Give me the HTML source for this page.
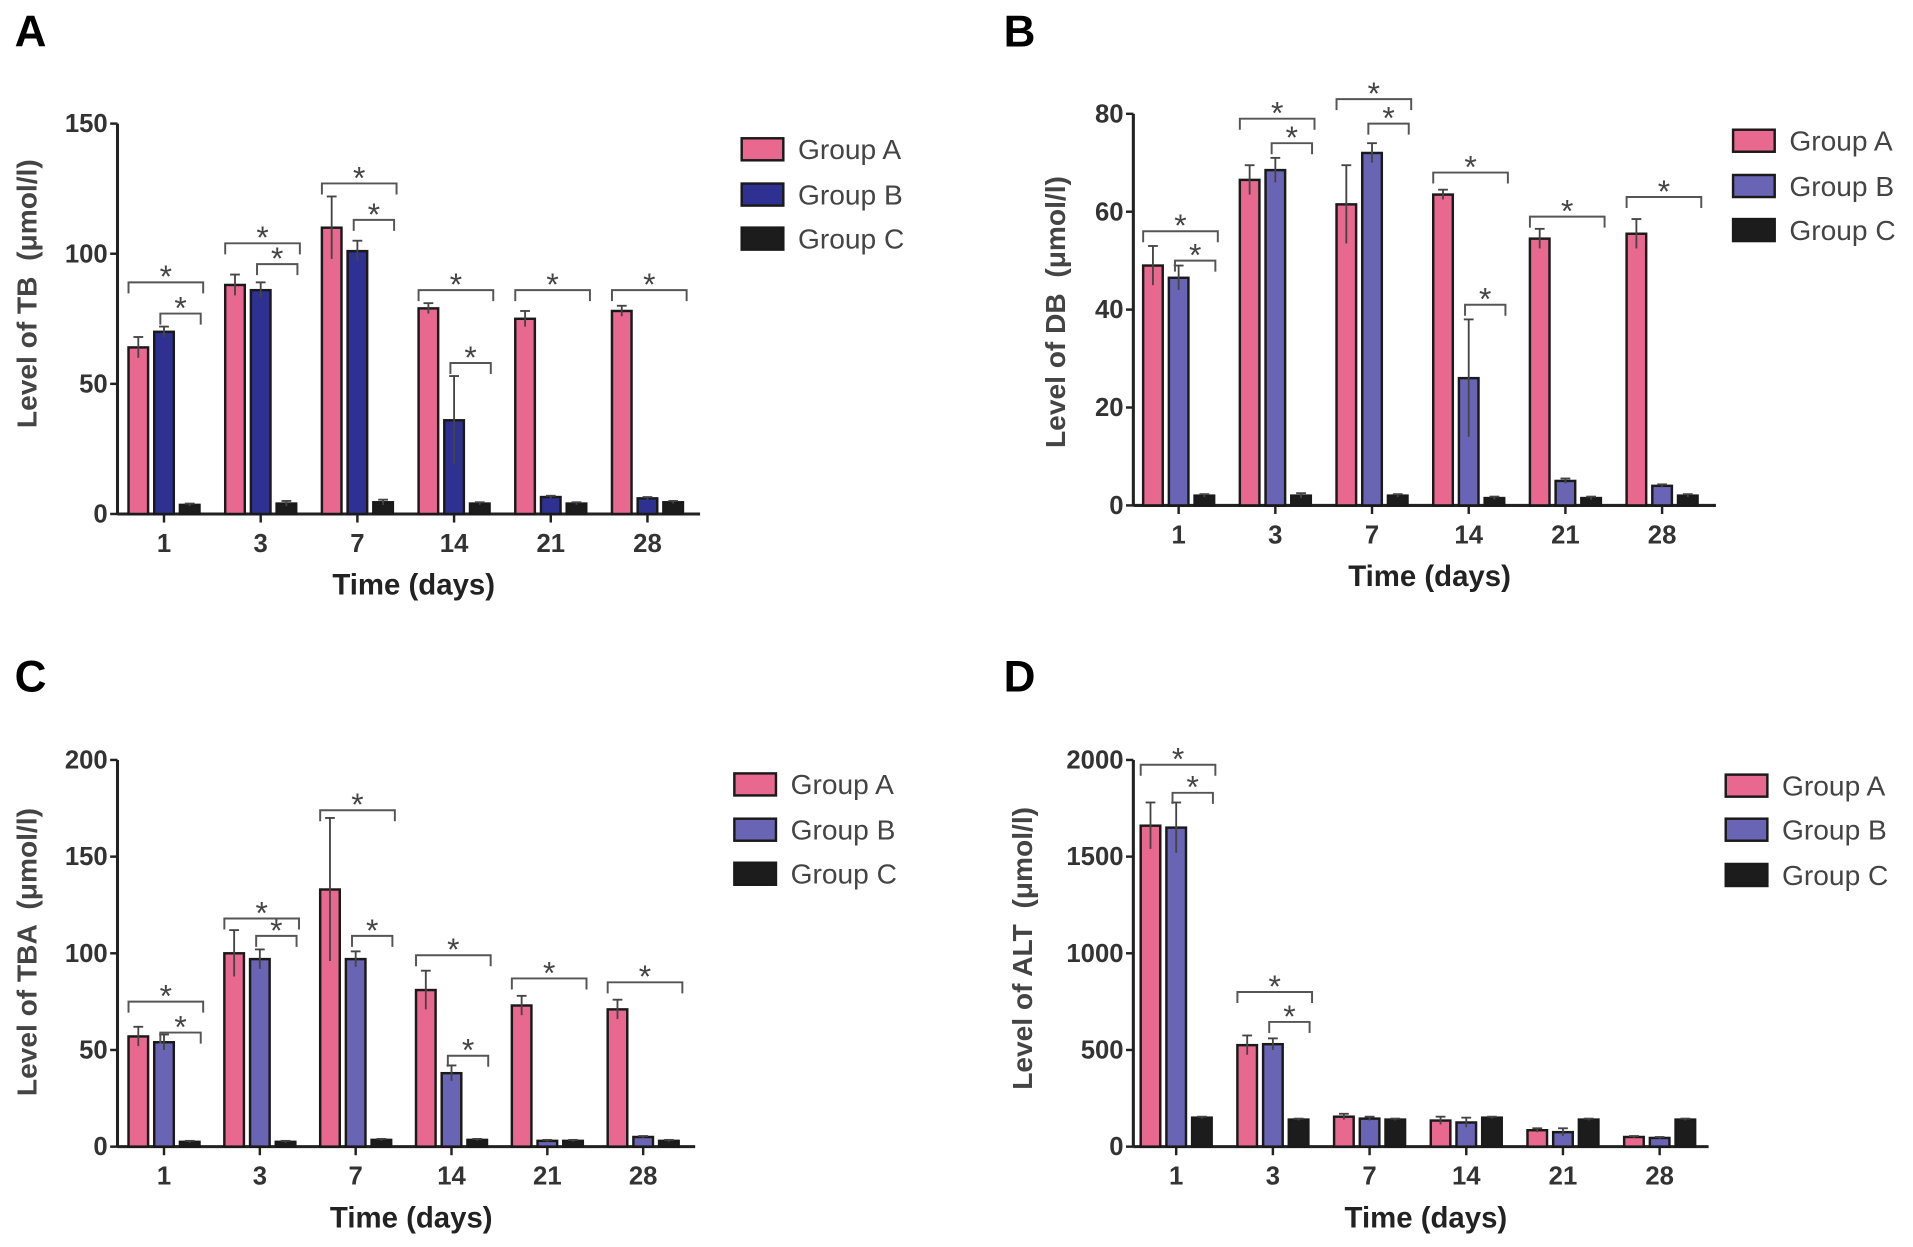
<!DOCTYPE html>
<html><head><meta charset="utf-8"><style>
html,body{margin:0;padding:0;background:#fff;}
svg{display:block;font-family:"Liberation Sans",Arial,sans-serif;}
</style></head><body>
<svg id="fig" width="1913" height="1247" viewBox="0 0 1563 1019" preserveAspectRatio="none" xmlns="http://www.w3.org/2000/svg"></svg>
<script>
const categories = ["1","3","7","14","21","28"];
const groupNames = ["Group A","Group B","Group C"];

const tbA = [64,88,110,79,75,78];
const tbB = [70,86,101,36,6.5,6];
const tbC = [3.5,4,4.5,4,4,4.5];
const tbErrA = [4,4,12,2,3,2];
const tbErrB = [2,3,4,17,0.5,0.5];
const tbErrC = [0.5,1,1,0.5,0.5,0.5];
const tbBig = [89,104,127,86,86,86];
const tbSmall = [77,96,113,58,null,null];
const tbTicks = [0,50,100,150];

const dbA = [49,66.5,61.5,63.5,54.5,55.5];
const dbB = [46.5,68.5,72,26,5,4];
const dbC = [2,2,2,1.5,1.5,2];
const dbErrA = [4,3,8,1,2,3];
const dbErrB = [2.5,2.5,2,12,0.5,0.3];
const dbErrC = [0.3,0.5,0.3,0.3,0.3,0.3];
const dbBig = [56,79,83,68,59,63];
const dbSmall = [50,74,78,41,null,null];
const dbTicks = [0,20,40,60,80];

const tbaA = [57,100,133,81,73,71];
const tbaB = [54,97,97,38,3,5];
const tbaC = [2.5,2.5,3.5,3.5,3,3];
const tbaErrA = [5,12,37,10,5,5];
const tbaErrB = [4,5,4,4,0.5,0.5];
const tbaErrC = [0.5,0.5,0.5,0.5,0.5,0.5];
const tbaBig = [75,118,174,99,87,85];
const tbaSmall = [59,109,109,47,null,null];
const tbaTicks = [0,50,100,150,200];

const altA = [1660,525,155,135,85,50];
const altB = [1650,530,145,125,75,45];
const altC = [150,140,140,150,140,140];
const altErrA = [120,50,15,20,10,5];
const altErrB = [130,30,10,25,20,5];
const altErrC = [5,5,5,5,5,5];
const altBig = [1975,800,null,null,null,null];
const altSmall = [1830,645,null,null,null,null];
const altTicks = [0,500,1000,1500,2000];

const NS = "http://www.w3.org/2000/svg";
const svg = document.getElementById("fig");
function mk(tag, attrs, parent, text){
  const e = document.createElementNS(NS, tag);
  for (const k in attrs) e.setAttribute(k, attrs[k]);
  if (text !== undefined) e.textContent = text;
  (parent || svg).appendChild(e);
  return e;
}

const panels = [
  {id:"a", letter:"A", lx:12, ly:38, ax:96, top:101, bot:420, xEnd:572, x0:134, dx:79, max:150, ticks:tbTicks,
   A:tbA,B:tbB,C:tbC,eA:tbErrA,eB:tbErrB,eC:tbErrC,big:tbBig,small:tbSmall, bColor:"#2e3192",
   ylab:"Level of TB  (μmol/l)", ylx:22, yly:240, legX:606, legY:[122,159,195]},
  {id:"b", letter:"B", lx:820, ly:38, ax:926, top:93, bot:413, xEnd:1402, x0:963, dx:79, max:80, ticks:dbTicks,
   A:dbA,B:dbB,C:dbC,eA:dbErrA,eB:dbErrB,eC:dbErrC,big:dbBig,small:dbSmall, bColor:"#6a64b4",
   ylab:"Level of DB  (μmol/l)", ylx:862, yly:255, legX:1416, legY:[115,152,188]},
  {id:"c", letter:"C", lx:12, ly:565, ax:96, top:621, bot:937, xEnd:568, x0:134, dx:78.3, max:200, ticks:tbaTicks,
   A:tbaA,B:tbaB,C:tbaC,eA:tbaErrA,eB:tbaErrB,eC:tbaErrC,big:tbaBig,small:tbaSmall, bColor:"#6a64b4",
   ylab:"Level of TBA  (μmol/l)", ylx:22, yly:778, legX:600, legY:[641,678,714]},
  {id:"d", letter:"D", lx:820, ly:565, ax:926, top:621, bot:937, xEnd:1396, x0:961, dx:79, max:2000, ticks:altTicks,
   A:altA,B:altB,C:altC,eA:altErrA,eB:altErrB,eC:altErrC,big:altBig,small:altSmall, bColor:"#6a64b4",
   ylab:"Level of ALT  (μmol/l)", ylx:835, yly:775, legX:1410, legY:[642,678,715]}
];

panels.forEach(p => {
  const g = mk("g", {});
  
  
  const yS = v => p.bot - (v / p.max) * (p.bot - p.top);
  const xS = i => p.x0 + i * p.dx;
  const L = mk("text", {x:p.lx, y:p.ly, "font-size":36, "font-weight":"bold", fill:"#000"}, g, p.letter);
  
  
  const ya = mk("line", {x1:p.ax, y1:p.top, x2:p.ax, y2:p.bot, stroke:"#222", "stroke-width":2.5}, g);
  
  
  const xa = mk("line", {x1:p.ax, y1:p.bot, x2:p.xEnd, y2:p.bot, stroke:"#222", "stroke-width":2.5}, g);
  
  
  p.ticks.forEach(t => {
    const y = yS(t);
    mk("line", {x1:p.ax-6, y1:y, x2:p.ax, y2:y, stroke:"#222", "stroke-width":2}, g);
    const tl = mk("text", {x:p.ax-8, y:y+7, "font-size":21, "font-weight":"bold", fill:"#333", "text-anchor":"end"}, g, String(t));
    
    
  });
  categories.forEach((c, i) => {
    const x = xS(i);
    mk("line", {x1:x, y1:p.bot, x2:x, y2:p.bot+7, stroke:"#222", "stroke-width":2}, g);
    const tl = mk("text", {x:x, y:p.bot+31, "font-size":21, "font-weight":"bold", fill:"#333", "text-anchor":"middle"}, g, c);
    
    
    const series = [[p.A,p.eA,"#e8688f"],[p.B,p.eB,p.bColor],[p.C,p.eC,"#1c1c1c"]];
    series.forEach((s, k) => {
      const cx = x + (k - 1) * 21;
      const v = s[0][i], e = s[1][i];
      const yt = yS(v);
      const bar = mk("rect", {x:cx-8, y:yt, width:16, height:p.bot-yt, fill:s[2], stroke:"#1a1a1a", "stroke-width":2}, g);
      
      
      const ye = yS(v + e), yl = yS(v - e);
      mk("line", {x1:cx, y1:ye, x2:cx, y2:yl, stroke:"#444", "stroke-width":1.5}, g);
      mk("line", {x1:cx-4, y1:ye, x2:cx+4, y2:ye, stroke:"#444", "stroke-width":1.5}, g);
    });
    const drawBracket = (val, x1, x2, nm) => {
      if (val === null) return;
      const y = yS(val);
      const br = mk("path", {d:`M${x1} ${y+9} V${y} H${x2} V${y+9}`, fill:"none", stroke:"#555", "stroke-width":1.6}, g);
      
      
      const st = mk("text", {x:(x1+x2)/2, y:y+4, "font-size":26, fill:"#444", "text-anchor":"middle"}, g, "*");
      
      
    };
    drawBracket(p.big[i], x-29, x+32, 'bracket-a-c');
    drawBracket(p.small[i], x-3, x+30, 'bracket-b-c');
  });
  const xt = mk("text", {x:(p.ax+p.xEnd)/2+4, y:p.bot+66, "font-size":24, "font-weight":"bold", fill:"#222", "text-anchor":"middle"}, g, "Time (days)");
  
  
  const yt = mk("text", {x:0, y:0, "font-size":23, "font-weight":"bold", fill:"#444", "text-anchor":"middle", "xml:space":"preserve", style:"white-space:pre", transform:`translate(${p.ylx+8},${p.yly}) rotate(-90)`}, g, p.ylab);
  
  
  const cols = ["#e8688f", p.bColor, "#1c1c1c"];
  groupNames.forEach((n, k) => {
    const y = p.legY[k];
    const sw = mk("rect", {x:p.legX, y:y-9, width:34, height:18, fill:cols[k], stroke:"#1a1a1a", "stroke-width":2}, g);
    
    
    const lt = mk("text", {x:p.legX+46, y:y+8, "font-size":23, fill:"#444"}, g, n);
    
    
  });
});
</script>
</body></html>
